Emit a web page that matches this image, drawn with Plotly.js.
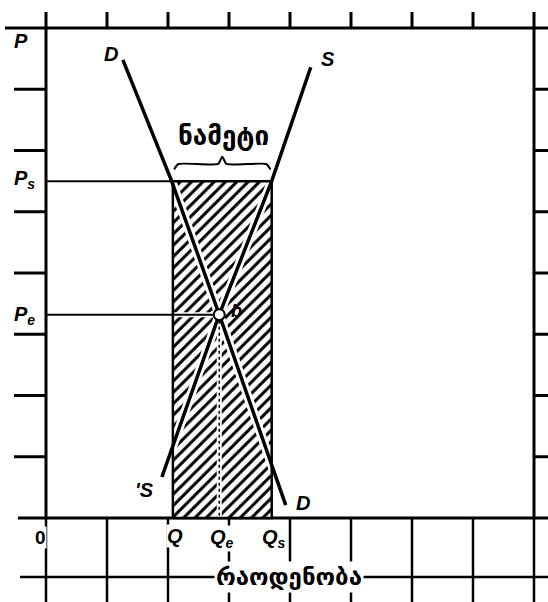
<!DOCTYPE html>
<html><head><meta charset="utf-8">
<script src="https://cdn.plot.ly/plotly-3.0.1.min.js"></script>
<style>html,body{margin:0;padding:0;background:#fff}#chart{width:548px;height:602px}</style>
</head><body><div id="chart"></div>
<script>
// ---- data (in grid squares of the printed chart) ----
const gridCells = [0, 1, 2, 3, 4, 5, 6, 7, 8];
const priceNames = ["P<sub>s</sub>", "P<sub>e</sub>"];
const priceValues = [5.50, 3.32];
const quantityNames = ["Q", "Q<sub>e</sub>", "Q<sub>s</sub>"];
const quantityValues = [2.08, 2.84, 3.70];
const demandQ = [1.26, 2.06, 2.84, 3.93];
const demandP = [7.48, 5.50, 3.32, 0.21];
const supplyQ = [1.90, 2.84, 3.70, 4.34];
const supplyP = [0.67, 3.32, 5.50, 7.36];
const curveNames = ["D", "S"];
const pointName = "b";
const priceAxisName = "P";
const originName = "0";
const surplusName = "ნამეტი";
const quantityAxisName = "რაოდენობა";

// ---- page geometry ----
const W = 548, H = 602, OX = 46, OY = 518, UX = 61, UY = 61.25;
const px = p => (p - OX) / UX;
const py = p => (OY - p) / UY;
const xr = [px(0), px(W)], yr = [py(H), py(0)];

const [Ps, Pe] = priceValues;
const [Q, Qe, Qs] = quantityValues;
const K = "#000";

const traces = [];
traces.push({x: [Q, Qs, Qs, Q, Q], y: [0, 0, Ps, Ps, 0], mode: "lines", fill: "toself",
  fillcolor: "#fff", line: {width: 0, color: K},
  fillpattern: {shape: "/", fgcolor: K, bgcolor: "#fff", size: 8, solidity: 0.38},
  hoverinfo: "skip"});
traces.push({x: demandQ, y: demandP, mode: "lines", line: {color: "#fff", width: 9}, hoverinfo: "skip"});
traces.push({x: supplyQ, y: supplyP, mode: "lines", line: {color: "#fff", width: 9}, hoverinfo: "skip"});
traces.push({x: [Qe, Qe], y: [Pe, 0], mode: "lines", line: {color: "#fff", width: 5}, hoverinfo: "skip"});
traces.push({x: [Q, Qe], y: [Pe, Pe], mode: "lines", line: {color: "#fff", width: 5}, hoverinfo: "skip"});
traces.push({x: [Q, Qs, Qs, Q, Q], y: [0, 0, Ps, Ps, 0], mode: "lines", line: {color: K, width: 2.5}, hoverinfo: "skip"});
traces.push({x: [0, Q], y: [Ps, Ps], mode: "lines", line: {color: K, width: 2}, hoverinfo: "skip"});
traces.push({x: [0, Qe], y: [Pe, Pe], mode: "lines", line: {color: K, width: 2}, hoverinfo: "skip"});
traces.push({x: [Qe, Qe], y: [Pe, 0], mode: "lines", line: {color: K, width: 1.5, dash: "dot"}, hoverinfo: "skip"});
traces.push({x: demandQ, y: demandP, mode: "lines", line: {color: K, width: 3.5}, hoverinfo: "skip"});
traces.push({x: supplyQ, y: supplyP, mode: "lines", line: {color: K, width: 3.5}, hoverinfo: "skip"});
const mid = (Q + Qs) / 2;
traces.push({x: [Q + 0.02, Q + 0.09, mid - 0.07, mid, mid + 0.07, Qs - 0.09, Qs - 0.02],
  y: [Ps + 0.19, Ps + 0.28, Ps + 0.28, Ps + 0.40, Ps + 0.28, Ps + 0.28, Ps + 0.19],
  mode: "lines", line: {color: K, width: 2, shape: "spline", smoothing: 0.5}, hoverinfo: "skip"});
traces.push({x: [Qe], y: [Pe], mode: "markers",
  marker: {symbol: "circle", size: 11, color: "#fff", line: {color: K, width: 2}}, hoverinfo: "skip"});

// ---- frame and grid ----
const shapes = [];
const ln = (x0, y0, x1, y1, w) => shapes.push({type: "line", layer: "below", x0, y0, x1, y1,
  line: {color: K, width: w}});
const topCell = gridCells[gridCells.length - 1];
ln(px(5), topCell, xr[1], topCell, 3);
ln(px(18), 0, xr[1], 0, 3);
ln(px(20), py(577), xr[1], py(577), 2.5);
gridCells.forEach(i => {
  ln(i, topCell, i, py(12), 3);
  if (i === 0 || i === topCell) ln(i, 0, i, topCell, 3);
  ln(i, 0, i, yr[0], 2.5);
});
gridCells.slice(1, -1).forEach(j => {
  ln(px(14), j, 0, j, 3);
  ln(topCell, j, xr[1], j, 3);
});

// ---- labels ----
const lf = (s) => ({family: "Liberation Sans, Arial, sans-serif", size: s || 20, color: K, weight: "bold", style: "italic"});
const gf = (s) => ({family: "DejaVu Sans, sans-serif", size: s, color: K, weight: "bold"});
const ann = (text, x, y, font, extra) => Object.assign({text, x, y, xref: "x", yref: "y",
  showarrow: false, font, xanchor: "center", yanchor: "middle"}, extra || {});
const annotations = [
  ann(priceAxisName, px(21), py(41), lf()),
  ann(priceNames[0], px(24), Ps + 0.02, lf()),
  ann(priceNames[1], px(24), Pe - 0.02, lf()),
  ann(curveNames[0], demandQ[0] - 0.2, demandP[0] + 0.1, lf()),
  ann(curveNames[1], supplyQ[supplyQ.length - 1] + 0.28, supplyP[supplyP.length - 1] + 0.14, lf()),
  ann("'" + curveNames[1], supplyQ[0] - 0.28, supplyP[0] - 0.22, lf()),
  ann(curveNames[0], demandQ[demandQ.length - 1] + 0.28, demandP[demandP.length - 1] + 0.03, lf()),
  ann(pointName, Qe + 0.28, Pe + 0.06, lf(18)),
  ann(originName, px(40), py(537), {family: "Liberation Sans, Arial, sans-serif", size: 19, color: K, weight: "bold"},
    {bgcolor: "#fff", borderpad: 0}),
  ann(quantityNames[0], Q + 0.03, py(536), lf(), {bgcolor: "#fff", borderpad: 0}),
  ann(quantityNames[1], Qe + 0.05, py(538), lf(), {bgcolor: "#fff", borderpad: 0}),
  ann(quantityNames[2], Qs + 0.03, py(538), lf(), {bgcolor: "#fff", borderpad: 0}),
  ann(surplusName, mid + 0.02, py(136), gf(26)),
  ann(quantityAxisName, px(289), py(577), gf(24), {bgcolor: "#fff", borderpad: 1})
];

Plotly.newPlot("chart", traces, {
  width: W, height: H, margin: {l: 0, r: 0, t: 0, b: 0, pad: 0},
  paper_bgcolor: "#fff", plot_bgcolor: "#fff", showlegend: false,
  xaxis: {range: xr, visible: false, fixedrange: true},
  yaxis: {range: yr, visible: false, fixedrange: true},
  shapes, annotations
}, {staticPlot: true, displayModeBar: false});
</script></body></html>
